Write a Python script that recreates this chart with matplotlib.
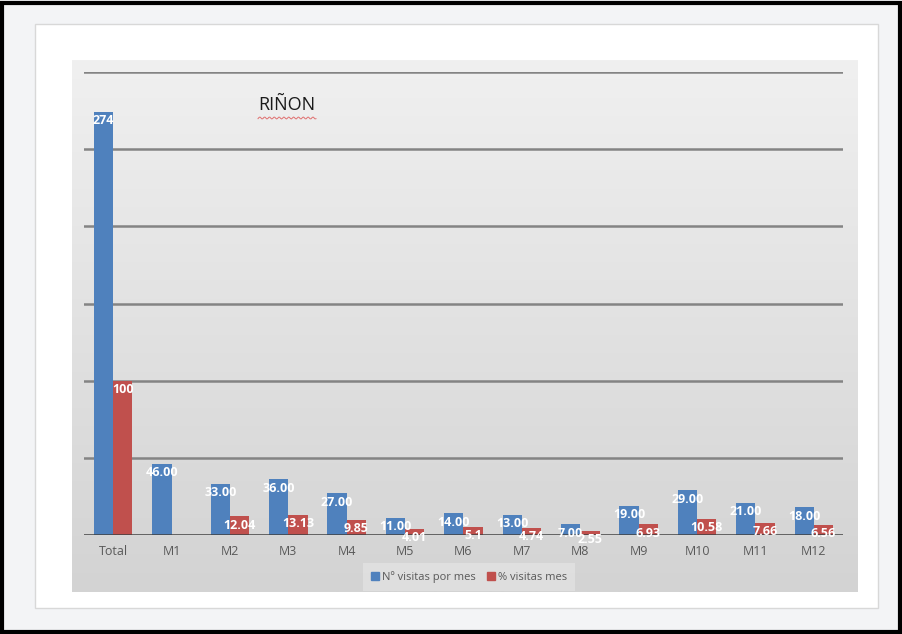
import numpy as np
import matplotlib.pyplot as plt
from matplotlib.patches import Rectangle, Patch
from matplotlib.colors import LinearSegmentedColormap

# visitas - riñon
categorias = ["Total", "M1", "M2", "M3", "M4", "M5", "M6", "M7", "M8", "M9", "M10", "M11", "M12"]
visitas = [274, 46, 33, 36, 27, 11, 14, 13, 7, 19, 29, 21, 18]
porcentaje = [100, 0, 12.04, 13.13, 9.85, 4.01, 5.1, 4.74, 2.55, 6.93, 10.58, 7.66, 6.56]
etiq_visitas = ["274", "46.00", "33.00", "36.00", "27.00", "11.00", "14.00", "13.00",
                "7.00", "19.00", "29.00", "21.00", "18.00"]
etiq_pct = ["100", "", "12.04", "13.13", "9.85", "4.01", "5.1", "4.74", "2.55",
            "6.93", "10.58", "7.66", "6.56"]

AZUL = "#4f81bd"
ROJO = "#c0504d"
W, H = 903, 634

plt.rcParams["font.family"] = ["Open Sans", "DejaVu Sans"]

fig = plt.figure(figsize=(W / 100, H / 100), dpi=100, facecolor="#f3f4f6")

# marco negro y tarjeta blanca (detras de los ejes)
fig.patches.append(Rectangle((35 / W, 1 - 608 / H), 843 / W, 584 / H, transform=fig.transFigure,
                             facecolor="white", edgecolor="#d8d8d8", linewidth=1, zorder=-10))
fig.patches.append(Rectangle((0.002, 0.003), 0.995, 0.993, transform=fig.transFigure,
                             fill=False, edgecolor="black", linewidth=3, zorder=10))

# fondo degradado del area del grafico
bg = fig.add_axes([72 / W, 1 - 592 / H, 786 / W, 532 / H], zorder=-5)
grad = np.linspace(0, 1, 256).reshape(-1, 1)
bg.imshow(grad, aspect="auto", extent=[0, 1, 0, 1], origin="upper",
          cmap=LinearSegmentedColormap.from_list("g", ["#f0f0f0", "#d3d3d3"]))
bg.set_axis_off()

ax = fig.add_axes([84 / W, 1 - 535 / H, 759 / W, 463 / H])
ax.patch.set_alpha(0)
x = np.arange(len(categorias))
ancho = 0.33

ax.set_ylim(0, 300)
ax.set_xlim(-0.5, len(categorias) - 0.5)
for y in range(50, 301, 50):
    ax.axhline(y, color="#848484", linewidth=1.8, zorder=1)

ax.bar(x - ancho / 2, visitas, ancho, color=AZUL, zorder=2)
ax.bar(x + ancho / 2, porcentaje, ancho, color=ROJO, zorder=2)
ax.axhline(0, color="#404040", linewidth=1.8, zorder=3)

# etiquetas blancas dentro del extremo de cada barra
for xi, v, t in zip(x, visitas, etiq_visitas):
    ax.text(xi - ancho / 2, v - 1.5, t, ha="center", va="top", color="white",
            fontsize=9, fontweight="bold", zorder=4)
for xi, v, t in zip(x, porcentaje, etiq_pct):
    ax.text(xi + ancho / 2, v - 1.5, t, ha="center", va="top", color="white",
            fontsize=9, fontweight="bold", zorder=4)

ax.set_xticks(x)
ax.set_xticklabels(categorias, color="#595959", fontsize=9)
ax.tick_params(axis="x", length=0, pad=7)
ax.set_yticks([])
for s in ax.spines.values():
    s.set_visible(False)

# titulo
fig.text(258 / W, 1 - 105 / H, "RIÑON", fontsize=13, color="#1a1a1a", va="center")
xs = np.linspace(258, 316, 60)
fig.add_artist(plt.Line2D(xs / W, 1 - (118 + 1.0 * np.sin(xs * 1.3)) / H,
                          color="#e07070", linewidth=0.7))

leg = fig.legend(handles=[Patch(color=AZUL, label="Nº visitas por mes"),
                          Patch(color=ROJO, label="% visitas mes")],
                 loc="center", bbox_to_anchor=(469 / W, 1 - 577 / H), ncol=2,
                 fontsize=8, frameon=True, handlelength=0.7, handleheight=0.7,
                 handletextpad=0.3, columnspacing=1.0, borderpad=0.4)
leg.get_frame().set_facecolor("#e2e2e2")
leg.get_frame().set_edgecolor("none")
leg.get_frame().set_boxstyle("square")
for t in leg.get_texts():
    t.set_color("#595959")

fig.savefig("out.png", dpi=100, facecolor=fig.get_facecolor())
